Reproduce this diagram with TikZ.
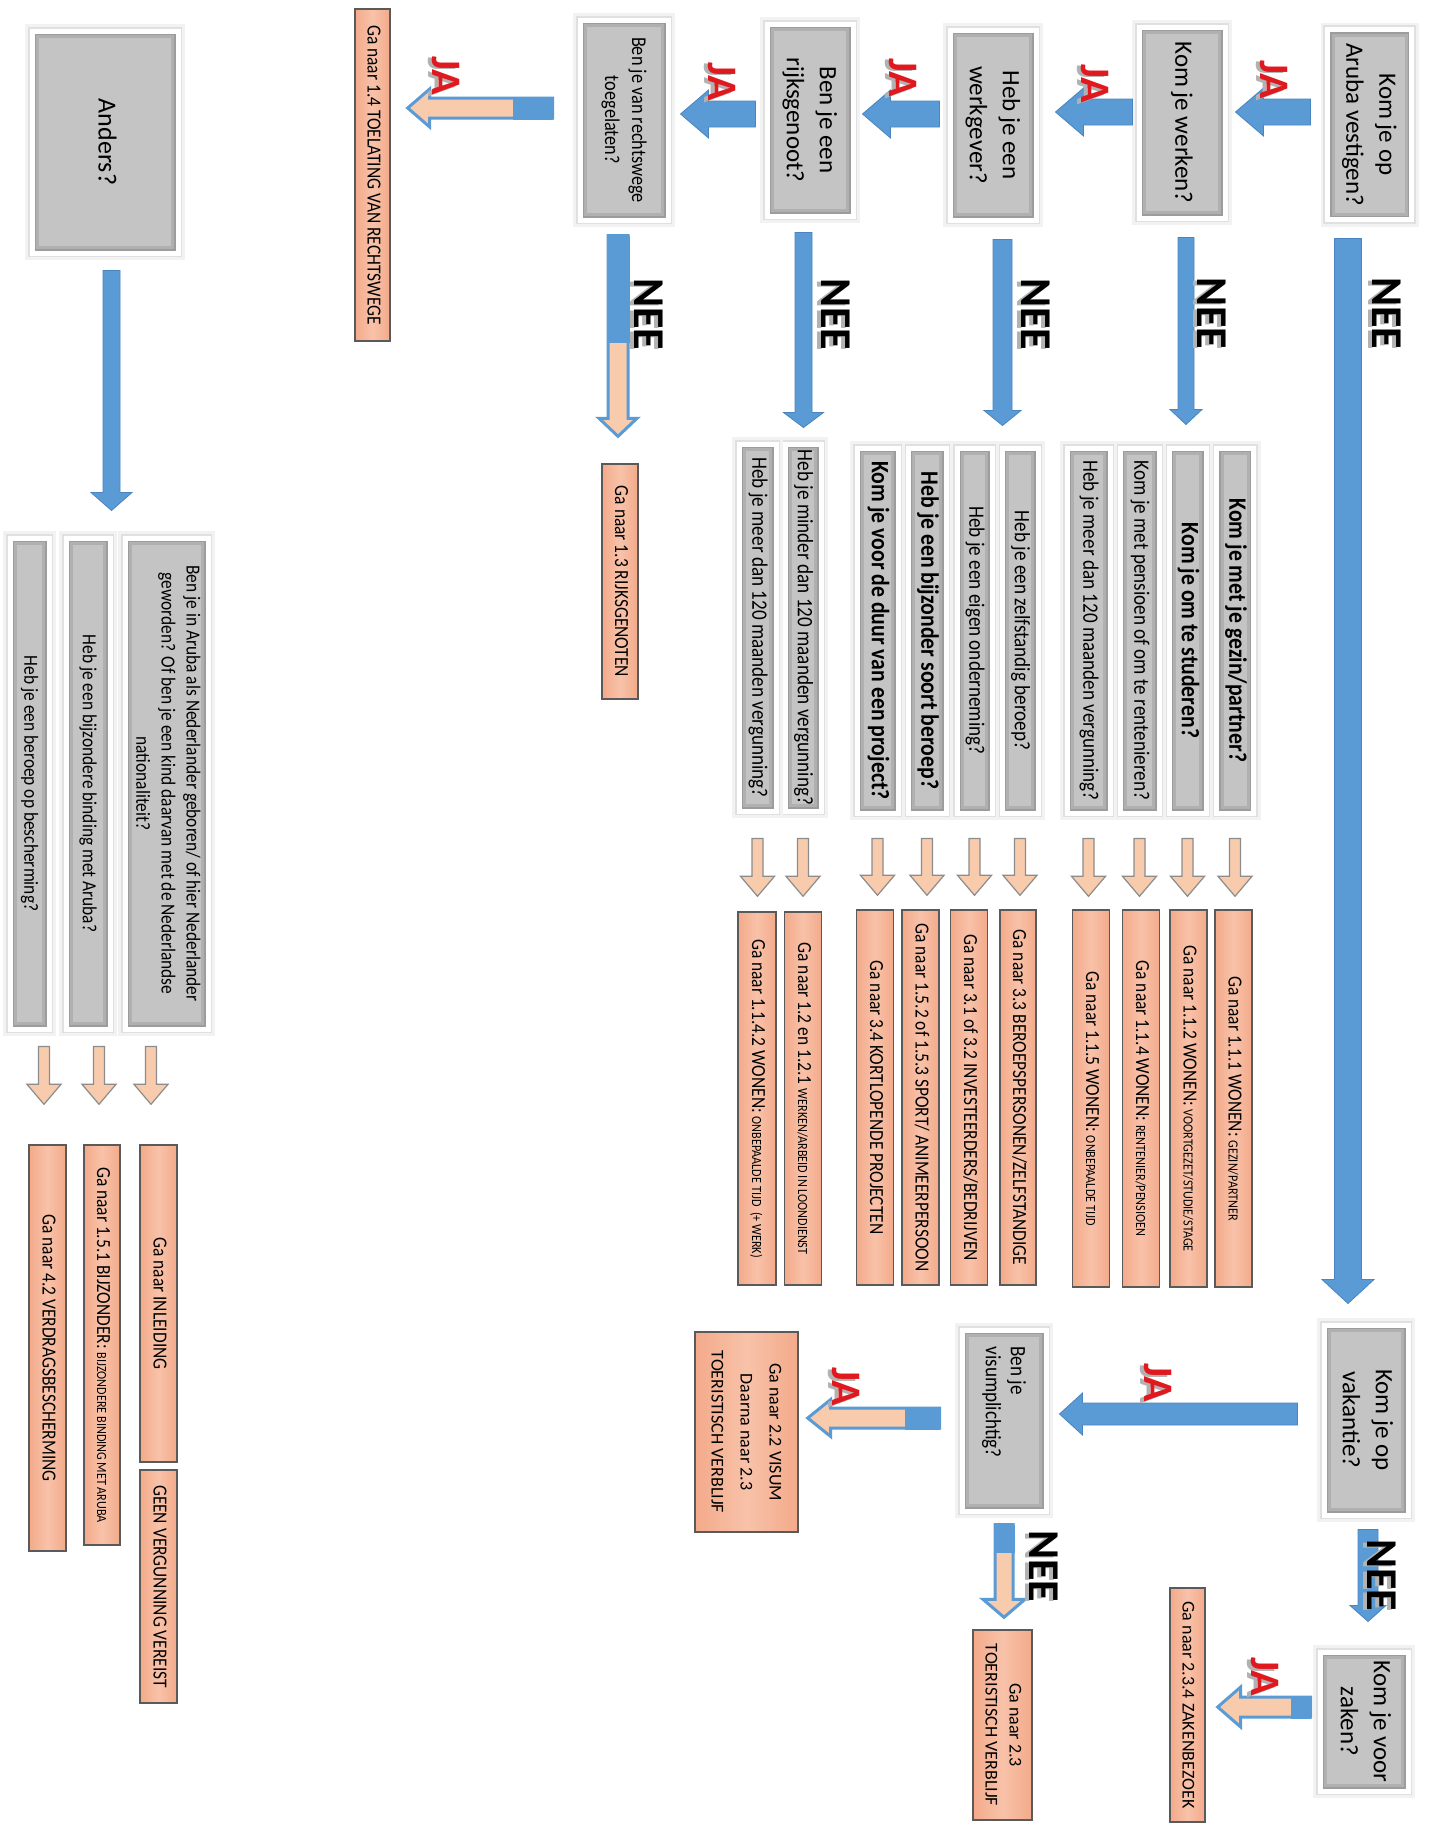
\documentclass[tikz,border=0pt]{standalone}
\usepackage{fontspec}
\setmainfont{Carlito}
\newfontfamily\condf[FakeStretch=0.87]{Carlito}
\usepackage{graphicx}
\usetikzlibrary{calc}

\definecolor{qgray}{HTML}{C4C4C4}
\definecolor{qedge}{HTML}{B0B0B0}
\definecolor{qedgeD}{HTML}{9C9C9C}
\definecolor{ablue}{HTML}{5B9BD5}
\definecolor{abluee}{HTML}{4A85BF}
\definecolor{pfill}{HTML}{F3AA8A}
\definecolor{pfillL}{HTML}{F8C2A9}
\definecolor{pedge}{HTML}{5A5A5A}
\definecolor{lpeach}{HTML}{F8CBAD}
\definecolor{lpedge}{HTML}{8C8C8C}
\definecolor{jared}{HTML}{E0191F}

\newcommand\rt[1]{\rotatebox{-90}{\begin{tabular}{@{}c@{}}#1\end{tabular}}}
\newcommand\sm[1]{{\fontsize{7}{8}\selectfont #1}}
\newcommand\wart[2]{\rotatebox{-90}{\rlap{\raisebox{-2pt}{\kern0.6pt\textcolor{black!30}{#2}}}\textcolor{#1}{#2}}}

% block arrow pointing left: style, from, to, shaft, head, head length (px)
\newcommand\arrL[6]{\path[#1] let \p1=#2, \p2=#3 in
 (\x1,{\y1+#4*0.25pt}) -- ({\x2+#6*0.5pt},{\y1+#4*0.25pt}) -- ({\x2+#6*0.5pt},{\y1+#5*0.25pt}) -- (\x2,\y1) -- ({\x2+#6*0.5pt},{\y1-#5*0.25pt}) -- ({\x2+#6*0.5pt},{\y1-#4*0.25pt}) -- (\x1,{\y1-#4*0.25pt}) -- cycle;}
% block arrow pointing down
\newcommand\arrD[6]{\path[#1] let \p1=#2, \p2=#3 in
 ({\x1-#4*0.25pt},\y1) -- ({\x1-#4*0.25pt},{\y2+#6*0.5pt}) -- ({\x1-#5*0.25pt},{\y2+#6*0.5pt}) -- (\x1,\y2) -- ({\x1+#5*0.25pt},{\y2+#6*0.5pt}) -- ({\x1+#4*0.25pt},{\y2+#6*0.5pt}) -- ({\x1+#4*0.25pt},\y1) -- cycle;}
% outlined variants with solid blue start
\newcommand\arrLo[6]{\arrL{oarrow}{#1}{#2}{#3}{#4}{#5}
 \path[fill=ablue] let \p1=#1 in (\x1,{\y1+#3*0.25pt+0.75pt}) rectangle ({\x1-#6*0.5pt},{\y1-#3*0.25pt-0.75pt});}
\newcommand\arrDo[6]{\arrD{oarrow}{#1}{#2}{#3}{#4}{#5}
 \path[fill=ablue] let \p1=#1 in ({\x1-#3*0.25pt-0.75pt},\y1) rectangle ({\x1+#3*0.25pt+0.75pt},{\y1-#6*0.5pt});}

\tikzset{
 sz/.style 2 args={minimum width={#1*0.5pt}, minimum height={#2*0.5pt}},
 qbox/.style={rectangle, inner sep=0pt, fill=qgray, draw=white, line width=2.5pt,
   preaction={draw=black!5, line width=7pt},
   preaction={draw=black!12, line width=4.4pt},
   path picture={\draw[qedge, line width=7pt] (path picture bounding box.south west) rectangle (path picture bounding box.north east);
                 \draw[qedgeD, line width=4pt] (path picture bounding box.south west) rectangle (path picture bounding box.north east);}},
 rbox/.style={rectangle, inner sep=0pt, draw=pedge, line width=0.7pt, left color=pfill, right color=pfill, middle color=pfillL},
 barrow/.style={fill=ablue, draw=abluee, line width=0.4pt},
 oarrow/.style={fill=lpeach, draw=ablue, line width=1.5pt, line join=miter},
 parr/.style={fill=lpeach, draw=lpedge, line width=0.6pt},
 fbig/.style={font=\fontsize{12.5}{16.5}\selectfont},
 fmid/.style={font=\condf\fontsize{10.5}{13.5}\selectfont},
 fcq/.style={font=\condf\fontsize{11}{13}\selectfont},
 fcqb/.style={font=\condf\bfseries\fontsize{12.5}{14}\selectfont},
 fnd/.style={font=\condf\fontsize{10}{12.5}\selectfont},
 fp/.style={font=\condf\fontsize{10}{12}\selectfont},
 fpv/.style={font=\fontsize{9}{12}\selectfont},
 fpv2/.style={font=\fontsize{9}{14.5}\selectfont},
 fnee/.style={font=\bfseries\fontsize{22}{24}\selectfont, inner sep=0pt},
 fja/.style={font=\bfseries\fontsize{21}{22}\selectfont, inner sep=0pt},
}

\begin{document}
\begin{tikzpicture}[x=0.5pt,y=-0.5pt]
\fill[white] (0,0) rectangle (1432,1827);
\useasboundingbox (0,0) rectangle (1432,1827);

% ---------- top row questions ----------
\node[qbox, sz={84}{190}, fbig] (vest) at (1369.5,124.5) {\rt{Kom je op\\Aruba vestigen?}};
\node[qbox, sz={86}{191}, fbig] (werk) at (1182,122.5) {\rt{Kom je werken?}};
\node[qbox, sz={86}{190}, fbig] (wg) at (993,125) {\rt{Heb je een\\werkgever?}};
\node[qbox, sz={86}{192}, fbig] (rijk) at (810,120) {\rt{Ben je een\\rijksgenoot?}};
\node[qbox, sz={88}{200}, fmid] (recht) at (624,120) {\rt{Ben je van rechtswege\\toegelaten?}};
\node[qbox, sz={146}{222}, font=\fontsize{13}{16}\selectfont] (anders) at (105,142) {\rt{Anders?}};

\node[rbox, sz={35}{332}, fp] (r14) at (372.5,175) {\rt{Ga naar 1.4 TOELATING VAN RECHTSWEGE}};
\node[rbox, sz={36}{235}, fp] (r13) at (620,581.5) {\rt{Ga naar 1.3 RIJKSGENOTEN}};

% ---------- group A ----------
\node[qbox, sz={37}{365}, fcqb] (gezin) at (1235,630.5) {\rt{Kom je met je gezin/partner?}};
\node[qbox, sz={37}{365}, fcqb] (stud) at (1187.5,630.5) {\rt{Kom je om te studeren?}};
\node[qbox, sz={39}{365}, fcq] (pens) at (1139.5,630.5) {\rt{Kom je met pensioen of om te rentenieren?}};
\node[qbox, sz={43}{365}, fcq] (meerA) at (1088.5,630.5) {\rt{Heb je meer dan 120 maanden vergunning?}};

\node[rbox, sz={37}{377}, fp] (r111) at (1233.5,1098.5) {\rt{Ga naar 1.1.1 WONEN: \sm{GEZIN/PARTNER}}};
\node[rbox, sz={37}{377}, fp] (r112) at (1188.5,1098.5) {\rt{Ga naar 1.1.2 WONEN: \sm{VOORTGEZET/STUDIE/STAGE}}};
\node[rbox, sz={37}{377}, fp] (r114) at (1141,1098.5) {\rt{Ga naar 1.1.4 WONEN: \sm{RENTENIER/PENSIOEN}}};
\node[rbox, sz={37}{377}, fp] (r115) at (1091,1098.5) {\rt{Ga naar 1.1.5 WONEN: \sm{ONBEPAALDE TIJD}}};

% ---------- group B ----------
\node[qbox, sz={36}{365}, fcq] (zelf) at (1020,630.5) {\rt{Heb je een zelfstandig beroep?}};
\node[qbox, sz={35}{365}, fcq] (eigen) at (974.5,630.5) {\rt{Heb je een eigen onderneming?}};
\node[qbox, sz={38}{365}, fcqb] (bijz) at (927,630.5) {\rt{Heb je een bijzonder soort beroep?}};
\node[qbox, sz={41}{365}, fcqb] (proj) at (877.5,630.5) {\rt{Kom je voor de duur van een project?}};

\node[rbox, sz={36}{375}, fp] (r33) at (1018,1097.5) {\rt{Ga naar 3.3 BEROEPSPERSONEN/ZELFSTANDIGE}};
\node[rbox, sz={37}{375}, fp] (r31) at (969,1097.5) {\rt{Ga naar 3.1 of 3.2 INVESTEERDERS/BEDRIJVEN}};
\node[rbox, sz={37}{375}, fp] (r152) at (920.5,1097.5) {\rt{Ga naar 1.5.2 of 1.5.3 SPORT/ ANIMEERPERSOON}};
\node[rbox, sz={37}{375}, fp] (r34) at (875,1097.5) {\rt{Ga naar 3.4 KORTLOPENDE PROJECTEN}};

% ---------- group C ----------
\node[qbox, sz={36}{367}, fcq] (minder) at (803,627.5) {\rt{Heb je minder dan 120 maanden vergunning?}};
\node[qbox, sz={37}{367}, fcq] (meerC) at (757.5,627.5) {\rt{Heb je meer dan 120 maanden vergunning?}};

\node[rbox, sz={37}{373}, fp] (r12) at (803,1098.5) {\rt{Ga naar 1.2 en 1.2.1 \sm{WERKEN/ARBEID IN LOONDIENST}}};
\node[rbox, sz={38}{373}, fp] (r1142) at (757,1098.5) {\rt{Ga naar 1.1.4.2 WONEN: \sm{ONBEPAALDE TIJD\ \ (+ WERK)}}};

% ---------- group D ----------
\node[qbox, sz={83}{491}, fnd] (neder) at (166.5,783.5) {\rt{Ben je in Aruba als Nederlander geboren/ of hier Nederlander\\geworden? Of ben je een kind daarvan met de Nederlandse\\nationaliteit?}};
\node[qbox, sz={44}{491}, fnd] (binding) at (88,783.5) {\rt{Heb je een bijzondere binding met Aruba?}};
\node[qbox, sz={39}{491}, fnd] (bescherm) at (29.5,783.5) {\rt{Heb je een beroep op bescherming?}};

\node[rbox, sz={37}{317}, fp] (inleid) at (158.5,1303.5) {\rt{Ga naar INLEIDING}};
\node[rbox, sz={37}{233}, fp] (geen) at (158.5,1586.5) {\rt{GEEN VERGUNNING VEREIST}};
\node[rbox, sz={36}{400}, fp] (rbind) at (102,1345) {\rt{Ga naar 1.5.1 BIJZONDER: \sm{BIJZONDERE BINDING MET ARUBA}}};
\node[rbox, sz={37}{406}, fp] (verdrag) at (47.5,1348) {\rt{Ga naar 4.2 VERDRAGSBESCHERMING}};

% ---------- vakantie ----------
\node[qbox, sz={84}{190}, fbig] (vak) at (1366,1420) {\rt{Kom je op\\vakantie?}};
\node[qbox, sz={88}{139}, fbig] (zaken) at (1364,1721.5) {\rt{Kom je voor\\zaken?}};
\node[qbox, sz={84}{181}, font=\condf\fontsize{11}{12.5}\selectfont] (visum) at (1004,1420.5) {\rotatebox{-90}{\parbox{74pt}{\raggedright Ben je\\visumplichtig?}}};

\node[rbox, sz={103}{200}, fpv2] (r22) at (746.5,1432) {\rt{Ga naar 2.2 VISUM\\Daarna naar 2.3\\TOERISTISCH VERBLIJF}};
\node[rbox, sz={59}{190}, fpv] (r23) at (1002.5,1725) {\rt{Ga naar 2.3\\TOERISTISCH VERBLIJF}};
\node[rbox, sz={35}{234}, fpv] (r234) at (1187.5,1705) {\rt{Ga naar 2.3.4 ZAKENBEZOEK}};

% ---------- JA arrows (top row) ----------
\arrL{barrow}{($(vest.west)+(-14.5,-12.5)$)}{($(werk.east)+(8,0)$)}{26}{48}{28}
\arrL{barrow}{($(werk.west)+(-4,-10.5)$)}{($(wg.east)+(17,0)$)}{26}{48}{28}
\arrL{barrow}{($(wg.west)+(-8,-11)$)}{($(rijk.east)+(7,0)$)}{26}{48}{28}
\arrL{barrow}{($(rijk.west)+(-9,-6)$)}{($(recht.east)+(10,0)$)}{26}{48}{28}
\arrLo{($(recht.west)+(-25,-12)$)}{($(r14.east)+(17,0)$)}{20}{38}{22}{40}

% ---------- NEE arrows (top row) ----------
\arrD{barrow}{($(vest.south)+(-21.5,16.5)$)}{($(vak.north)+(0,-19)$)}{27}{52}{24}
\arrD{barrow}{($(werk.south)+(4,17)$)}{($(stud.north)+(0,-21)$)}{16}{32}{15}
\arrD{barrow}{($(wg.south)+(9.5,17)$)}{($(eigen.north)+(0,-20)$)}{19}{37}{15}
\arrD{barrow}{($(rijk.south)+(-6.5,14)$)}{($(minder.north)+(0,-14)$)}{17}{40}{15}
\arrDo{($(recht.south)+(-6,13)$)}{($(r13.north)+(0,-27)$)}{20}{38}{18}{107}
\arrD{barrow}{($(anders.south)+(6.5,15)$)}{($(binding.north)+(0,-25)$)}{17}{41}{18}

% ---------- vakantie arrows ----------
\arrL{barrow}{($(vak.west)+(-24,-6)$)}{($(visum.east)+(11,0)$)}{22}{42}{23}
\arrD{barrow}{($(vak.south)+(2,12)$)}{($(zaken.north)+(0,-28)$)}{20}{36}{16}
\arrLo{($(zaken.west)+(-7,-14.5)$)}{($(r234.east)+(12,0)$)}{20}{40}{23}{20}
\arrLo{($(visum.west)+(-20,-2.5)$)}{($(r22.east)+(9,0)$)}{20}{37}{23}{35}
\arrDo{($(visum.south)+(0,11)$)}{($(r23.north)+(0,-12)$)}{18}{42}{18}{28}

% ---------- small peach arrows ----------
\arrD{parr}{($(gezin.south)+(0,23)$)}{($(r111.north)+(0,-13)$)}{11}{34}{20}
\arrD{parr}{($(stud.south)+(0,23)$)}{($(r112.north)+(0,-13)$)}{11}{34}{20}
\arrD{parr}{($(pens.south)+(0,23)$)}{($(r114.north)+(0,-13)$)}{11}{34}{20}
\arrD{parr}{($(meerA.south)+(0,23)$)}{($(r115.north)+(0,-13)$)}{11}{34}{20}
\arrD{parr}{($(zelf.south)+(0,23)$)}{($(r33.north)+(0,-14)$)}{11}{34}{20}
\arrD{parr}{($(eigen.south)+(0,23)$)}{($(r31.north)+(0,-14)$)}{11}{34}{20}
\arrD{parr}{($(bijz.south)+(0,23)$)}{($(r152.north)+(0,-14)$)}{11}{34}{20}
\arrD{parr}{($(proj.south)+(0,23)$)}{($(r34.north)+(0,-14)$)}{11}{34}{20}
\arrD{parr}{($(minder.south)+(0,25)$)}{($(r12.north)+(0,-15)$)}{11}{34}{20}
\arrD{parr}{($(meerC.south)+(0,25)$)}{($(r1142.north)+(0,-15)$)}{11}{34}{20}
\arrD{parr}{($(inleid.north |- neder.south)+(-7.5,15)$)}{($(inleid.north)+(0,-40)$)}{11}{34}{20}
\arrD{parr}{($(rbind.north |- binding.south)+(-3,15)$)}{($(rbind.north)+(0,-40)$)}{11}{34}{20}
\arrD{parr}{($(verdrag.north |- bescherm.south)+(-3.5,15)$)}{($(verdrag.north)+(0,-40)$)}{11}{34}{20}

% ---------- labels ----------
\node[fja] (ja1) at (1272,80) {\wart{jared}{JA}};
\node[fja] (ja2) at (1093,84) {\wart{jared}{JA}};
\node[fja] (ja3) at (901,78) {\wart{jared}{JA}};
\node[fja] (ja4) at (720,82) {\wart{jared}{JA}};
\node[fja] (ja5) at (444,76) {\wart{jared}{JA}};
\node[fja] (ja6) at (1156,1383) {\wart{jared}{JA}};
\node[fja] (ja7) at (1263,1677) {\wart{jared}{JA}};
\node[fja] (ja8) at (844,1387) {\wart{jared}{JA}};

\node[fnee] (nee1) at (1385,313) {\wart{black}{NEE}};
\node[fnee] (nee2) at (1210,313) {\wart{black}{NEE}};
\node[fnee] (nee3) at (1034,314) {\wart{black}{NEE}};
\node[fnee] (nee4) at (834,314) {\wart{black}{NEE}};
\node[fnee] (nee5) at (647,314) {\wart{black}{NEE}};
\node[fnee] (nee6) at (1380,1575) {\wart{black}{NEE}};
\node[fnee] (nee7) at (1042,1566) {\wart{black}{NEE}};
\end{tikzpicture}
\end{document}
